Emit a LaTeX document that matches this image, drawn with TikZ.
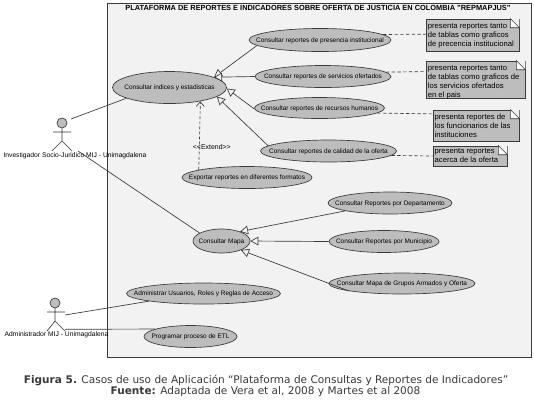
\documentclass[tikz,border=0pt]{standalone}
\usepackage{fontspec}
\setmainfont{Liberation Sans}
\newfontfamily\capfont{DejaVu Sans}
\usetikzlibrary{shapes.geometric,arrows.meta,calc}
\definecolor{ink}{HTML}{3A3A3A}
\definecolor{shade}{HTML}{BDBDBD}
\definecolor{panel}{HTML}{F2F2F2}
\tikzset{
  line/.style={draw=ink,line width=0.5pt},
  usecase/.style={ellipse,draw=ink,fill=shade,line width=0.5pt,inner sep=0pt,text=black,font=\fontsize{4.85}{6}\selectfont},
  gen/.style={line,-{Triangle[length=6pt,width=6.5pt,fill=panel]}},
  dep/.style={line,dashed,dash pattern=on 2.2pt off 1.6pt,-{Straight Barb[length=3.5pt,width=6pt]}},
  anchorline/.style={line,dash pattern=on 2.5pt off 1.8pt},
  notebox/.style={rectangle,draw=ink,fill=shade,line width=0.6pt,inner sep=0pt,text=black,font=\fontsize{5.75}{6.7}\selectfont},
  actorlabel/.style={font=\fontsize{5.05}{6}\selectfont,text=black,inner sep=0pt},
  head/.style={circle,draw=ink,fill=shade,line width=0.5pt,minimum size=7.5pt,inner sep=0pt},
}
\newcommand{\uc}[6]{\node[usecase,minimum width=#3*1.5pt,minimum height=#4*1.5pt] (#1) at (#2) {\smash{\makebox[0pt]{\raisebox{-1.6pt}{#5#6}}}};}
\newcommand{\notecorner}[1]{%
  \fill[panel] ($(#1.north east)+(-6.8pt,0)$) -- (#1.north east) -- ($(#1.north east)+(0,-6.8pt)$) -- cycle;
  \draw[line,fill=white] ($(#1.north east)+(-6.8pt,0)$) -- ($(#1.north east)+(0,-6.8pt)$) -- ($(#1.north east)+(-6.8pt,-6.8pt)$) -- cycle;}
\begin{document}
\begin{tikzpicture}[x=0.75pt,y=-0.75pt]
\useasboundingbox (0,0) rectangle (534,401);
\fill[white] (0,0) rectangle (534,401);
\node[draw=ink,fill=panel,line width=0.6pt,minimum width=318pt,minimum height=265.5pt,inner sep=0pt] (sys) at (319,180) {};
\node[font=\fontsize{5.55}{7}\selectfont\bfseries,inner sep=0pt] (title) at (318,8) {PLATAFORMA DE REPORTES E INDICADORES SOBRE OFERTA DE JUSTICIA EN COLOMBIA "REPMAPJUS"};

% use cases
\uc{idx}{169.5,87.5}{57}{16}{}{Consultar indices y estadisticas}
\uc{pres}{320,40}{71}{11.5}{}{Consultar reportes de presencia institucional}
\uc{serv}{323,76.5}{68}{11}{}{Consultar reportes de servicios ofertados}
\uc{rec}{319.5,108}{65}{10.5}{}{Consultar reportes de recursos humanos}
\uc{cal}{328.5,151}{68}{11}{}{Consultar reportes de calidad de la oferta}
\uc{exp}{247,177.5}{65}{11}{}{Exportar reportes en diferentes formatos}
\uc{mapa}{221.5,241}{28.5}{12}{}{Consultar Mapa}
\uc{depto}{390,203}{62}{11}{}{Consultar Reportes por Departamento}
\uc{muni}{384,241.5}{55}{11}{}{Consultar Reportes por Municipio}
\uc{grup}{402,283.5}{73}{10.5}{}{Consultar Mapa de Grupos Armados y Oferta}
\uc{admin}{203.5,293.5}{77}{10.5}{}{Administrar Usuarios, Roles y Reglas de Acceso}
\uc{etl}{190.5,336.5}{46.5}{11}{}{Programar proceso de ETL}

% notes
\node[notebox,minimum width=69.75pt,minimum height=24pt] (n1) at (472.5,35) {\parbox[c][24pt][t]{67pt}{\vspace{3.2pt}presenta reportes tanto\\de tablas como graficos\\de precencia institucional}};
\node[notebox,minimum width=74.25pt,minimum height=27.75pt] (n2) at (475.5,79.5) {\parbox[c][27.75pt][t]{71.5pt}{\vspace{3.2pt}presenta reportes tanto\\de tablas como graficos de\\los servicios ofertados\\en el pais}};
\node[notebox,minimum width=64.5pt,minimum height=23.25pt] (n3) at (476,125.5) {\parbox[c][23.25pt][t]{62pt}{\vspace{3.2pt}presenta reportes de\\los funcionarios de las\\instituciones}};
\node[notebox,minimum width=55.5pt,minimum height=15pt] (n4) at (470,156) {\parbox[c][15pt][t]{53pt}{\vspace{1.8pt}presenta reportes\\acerca de la oferta}};
\notecorner{n1}\notecorner{n2}\notecorner{n3}\notecorner{n4}

% generalizations
\draw[gen] (pres.185) -- (idx.13);
\draw[gen] (serv.180) -- (idx.13.5);
\draw[gen] (rec.181) -- (idx.-1);
\draw[gen] (cal.175) -- (idx.-11);
\draw[gen] (depto.190) -- (mapa.27);
\draw[gen] (muni.180) -- (mapa.0);
\draw[gen] (grup.188) -- (mapa.-25);

% extend
\draw[dep] (exp.171.6) -- node[pos=0.33,xshift=9.4pt,inner sep=0pt,font=\fontsize{5.2}{6}\selectfont,text=black] (extlab) {{<}{<}Extend{>}{>}} (idx.-24.4);

% note anchors
\draw[anchorline] (pres.5) -- (n1.179);
\draw[anchorline] (serv.4.1) -- (n2.171.4);
\draw[anchorline] (rec.-5.7) -- (n3.165);
\draw[anchorline] (cal.-4.3) -- (n4.west);

% actor 1
\node[head] (a1h) at (62,123) {};
\coordinate (a1la) at (53,132);
\coordinate (a1ra) at (71,132);
\coordinate (a1hip) at (62,141);
\coordinate (a1ll) at (52,151);
\coordinate (a1rl) at (72,151);
\coordinate (a1p) at (71,119);
\coordinate (a1q) at (78,151);
\draw[line] (a1h) -- (a1hip) (a1la) -- (a1ra) (a1ll) -- (a1hip) -- (a1rl);
\node[actorlabel] (a1t) at (75,155.5) {Investigador Socio-Juridico MIJ - Unimagdalena};
\draw[line] (a1p) -- (idx.194);
\draw[line] (a1q) -- (mapa.160);

% actor 2
\node[head] (a2h) at (55,303) {};
\coordinate (a2la) at (47,312);
\coordinate (a2ra) at (65,312);
\coordinate (a2hip) at (55,321);
\coordinate (a2ll) at (47,331);
\coordinate (a2rl) at (65,331);
\coordinate (a2p) at (65,315);
\coordinate (a2q) at (65,329.3);
\draw[line] (a2h) -- (a2hip) (a2la) -- (a2ra) (a2ll) -- (a2hip) -- (a2rl);
\node[actorlabel] (a2t) at (56.5,335) {Administrador MIJ - Unimagdalena};
\draw[line] (a2p) -- (admin.188);
\draw[line] (a2q) -- (etl.168.4);

% caption
\node[font=\capfont\fontsize{7.9}{8}\selectfont,text=ink,inner sep=0pt] (cap1) at (266,380) {\textbf{Figura 5.} Casos de uso de Aplicación “Plataforma de Consultas y Reportes de Indicadores”};
\node[font=\capfont\fontsize{7.9}{8}\selectfont,text=ink,inner sep=0pt] (cap2) at (265.5,392) {\textbf{Fuente:} Adaptada de Vera et al, 2008 y Martes et al 2008};
\end{tikzpicture}
\end{document}
